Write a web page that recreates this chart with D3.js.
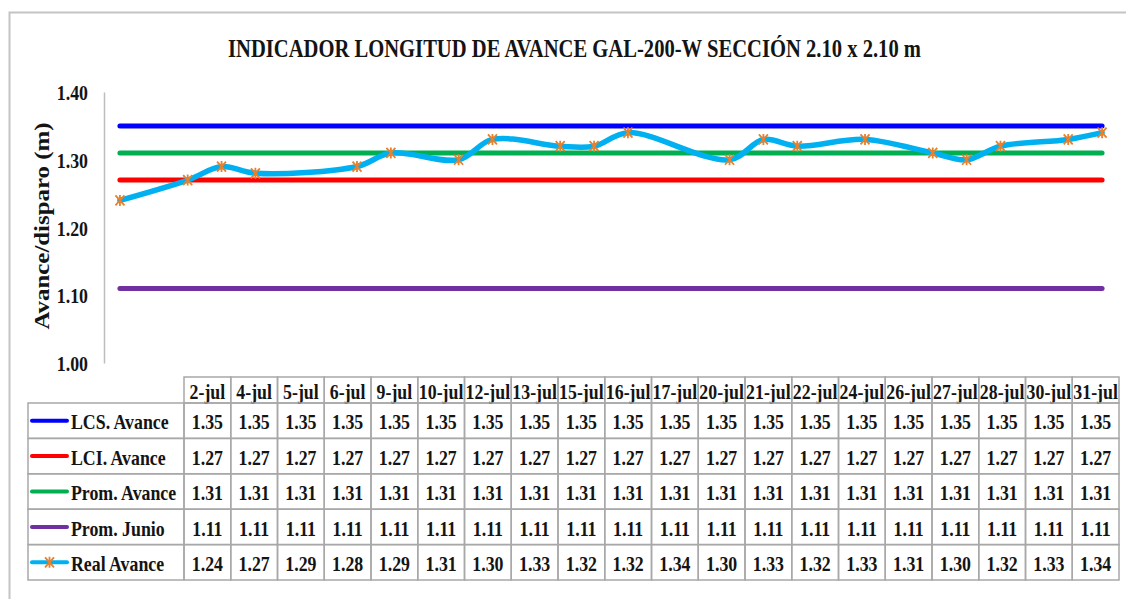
<!DOCTYPE html>
<html>
<head>
<meta charset="utf-8">
<script src="https://cdn.jsdelivr.net/npm/d3@7"></script>
<style>
  body { margin: 0; background: #fff; }
  svg text { font-family: "Liberation Serif", "Times New Roman", serif; font-weight: bold; fill: #141414; }
</style>
</head>
<body>
<svg id="chart" width="1126" height="599"></svg>
<script>
// Measurement dates (day-month) and daily advance per blast
const categories = ["2-jul", "4-jul", "5-jul", "6-jul", "9-jul", "10-jul", "12-jul", "13-jul", "15-jul", "16-jul",
                    "17-jul", "20-jul", "21-jul", "22-jul", "24-jul", "26-jul", "27-jul", "28-jul", "30-jul", "31-jul"];
const lcsAvance   = [1.35, 1.35, 1.35, 1.35, 1.35, 1.35, 1.35, 1.35, 1.35, 1.35, 1.35, 1.35, 1.35, 1.35, 1.35, 1.35, 1.35, 1.35, 1.35, 1.35];
const lciAvance   = [1.27, 1.27, 1.27, 1.27, 1.27, 1.27, 1.27, 1.27, 1.27, 1.27, 1.27, 1.27, 1.27, 1.27, 1.27, 1.27, 1.27, 1.27, 1.27, 1.27];
const promAvance  = [1.31, 1.31, 1.31, 1.31, 1.31, 1.31, 1.31, 1.31, 1.31, 1.31, 1.31, 1.31, 1.31, 1.31, 1.31, 1.31, 1.31, 1.31, 1.31, 1.31];
const promJunio   = [1.11, 1.11, 1.11, 1.11, 1.11, 1.11, 1.11, 1.11, 1.11, 1.11, 1.11, 1.11, 1.11, 1.11, 1.11, 1.11, 1.11, 1.11, 1.11, 1.11];
const realAvance  = [1.24, 1.27, 1.29, 1.28, 1.29, 1.31, 1.30, 1.33, 1.32, 1.32, 1.34, 1.30, 1.33, 1.32, 1.33, 1.31, 1.30, 1.32, 1.33, 1.34];
const seriesNames = ["LCS. Avance", "LCI. Avance", "Prom. Avance", "Prom. Junio", "Real Avance"];
const yTicks = [1.00, 1.10, 1.20, 1.30, 1.40];

const colors = ["#0000ff", "#ff0000", "#00b050", "#7030a0", "#00b0f0"];
const markerColor = "#e8802c";
const series = [lcsAvance, lciAvance, promAvance, promJunio, realAvance].map((values, i) => ({
  name: seriesNames[i], values, color: colors[i], marker: i === 4
}));

const svg = d3.select("#chart");
const SX = 0.81;   // horizontal squeeze of the serif lettering
const FS = 22;     // table / tick font size

// Text helper: condensed bold serif placed at (x, y)
function label(g, x, y, str, size, anchor) {
  return g.append("text")
    .attr("transform", `translate(${x},${y}) scale(${SX},1)`)
    .attr("text-anchor", anchor || "start")
    .attr("dominant-baseline", "central")
    .style("font-size", size + "px")
    .text(str);
}

// Outer frame (top and left edges)
svg.append("path")
  .attr("d", "M9.5,599 V12.5 H1126")
  .attr("fill", "none").attr("stroke", "#c4c4c4").attr("stroke-width", 2);

// Title
svg.append("text")
  .attr("x", 228).attr("y", 48)
  .attr("dominant-baseline", "central")
  .attr("textLength", 693).attr("lengthAdjust", "spacingAndGlyphs")
  .style("font-size", "26px")
  .text("INDICADOR LONGITUD DE AVANCE GAL-200-W SECCIÓN 2.10 x 2.10 m");

// Scales: x is a day-of-month axis, y is advance in metres
const dayOf = c => +c.split("-")[0];
const x = d3.scaleLinear().domain([1.5, 31.5]).range([103, 1119]);
const y = d3.scaleLinear().domain([1.0, 1.4]).range([363, 92]);

// Y axis
const yAxis = svg.append("g").attr("transform", "translate(104,0)")
  .call(d3.axisLeft(y).tickValues(yTicks).tickSize(0).tickFormat(d3.format(".2f")));
yAxis.select(".domain").attr("stroke", "#bdbdbd").attr("stroke-width", 1.5);
yAxis.selectAll(".tick text").remove();
yAxis.selectAll(".tick").each(function (d) {
  label(d3.select(this), -16, 0, d3.format(".2f")(d), FS, "end");
});

// Y axis title
svg.append("text")
  .attr("transform", "translate(42,226) rotate(-90)")
  .attr("text-anchor", "middle")
  .attr("dominant-baseline", "central")
  .attr("textLength", 207).attr("lengthAdjust", "spacingAndGlyphs")
  .style("font-size", "21px")
  .text("Avance/disparo (m)");

// Series lines
const flatLine = d3.line().x(d => x(d.day)).y(d => y(d.v));
const smoothLine = d3.line().x(d => x(d.day)).y(d => y(d.v)).curve(d3.curveCatmullRom.alpha(0.5));
const plot = svg.append("g");
series.forEach(s => {
  const pts = s.values.map((v, i) => ({ day: dayOf(categories[i]), v }));
  plot.append("path")
    .attr("d", (s.marker ? smoothLine : flatLine)(pts))
    .attr("fill", "none")
    .attr("stroke", s.color)
    .attr("stroke-width", s.marker ? 5.5 : 5)
    .attr("stroke-linecap", "round")
    .attr("stroke-linejoin", "round");
  if (s.marker) {
    plot.selectAll(null).data(pts).enter().append("path")
      .attr("transform", d => `translate(${x(d.day)},${y(d.v)})`)
      .attr("d", "M-4.5,-5L4.5,5M-4.5,5L4.5,-5M0,-5.5V5.5")
      .attr("stroke", markerColor).attr("stroke-width", 1.8).attr("fill", "none");
  }
});

// Data table
const table = svg.append("g");
const col = d3.scaleBand().domain(categories).range([184, 1119]);
const headTop = 377, rowTop = 403, rowH = 35.4;
const labelLeft = 28;
const rowY = i => rowTop + i * rowH;
const gridColor = "#a8a8a8";

// header cells
categories.forEach(c => {
  table.append("rect")
    .attr("x", col(c)).attr("y", headTop).attr("width", col.bandwidth()).attr("height", rowTop - headTop)
    .attr("fill", "none").attr("stroke", gridColor).attr("stroke-width", 1.5);
  label(table, col(c) + col.bandwidth() / 2, (headTop + rowTop) / 2 + 1, c, FS, "middle");
});

// body rows
series.forEach((s, r) => {
  const top = rowY(r);
  table.append("rect")
    .attr("x", labelLeft).attr("y", top).attr("width", 184 - labelLeft).attr("height", rowH)
    .attr("fill", "none").attr("stroke", gridColor).attr("stroke-width", 1.5);
  const cy = top + rowH / 2;
  // legend key
  table.append("line")
    .attr("x1", 32).attr("x2", 67).attr("y1", cy).attr("y2", cy)
    .attr("stroke", s.color).attr("stroke-width", 4).attr("stroke-linecap", "round");
  if (s.marker) {
    table.append("path")
      .attr("transform", `translate(49.5,${cy})`)
      .attr("d", "M-4.5,-5L4.5,5M-4.5,5L4.5,-5M0,-5.5V5.5")
      .attr("stroke", markerColor).attr("stroke-width", 1.8).attr("fill", "none");
  }
  label(table, 71, cy + 1, s.name, FS, "start");
  s.values.forEach((v, i) => {
    const c = categories[i];
    table.append("rect")
      .attr("x", col(c)).attr("y", top).attr("width", col.bandwidth()).attr("height", rowH)
      .attr("fill", "none").attr("stroke", gridColor).attr("stroke-width", 1.5);
    label(table, col(c) + col.bandwidth() / 2, cy + 1, d3.format(".2f")(v), FS, "middle");
  });
});
</script>
</body>
</html>
